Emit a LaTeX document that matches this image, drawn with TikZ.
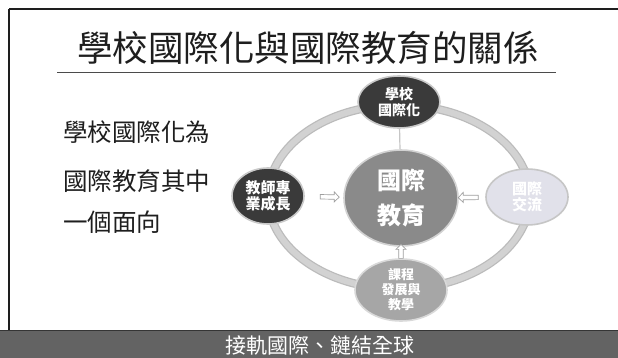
\documentclass[tikz,border=0pt]{standalone}
\usepackage{fontspec}
\setmainfont{Noto Sans CJK TC}
\newfontfamily\cjk{Noto Sans CJK TC}
\usetikzlibrary{shapes.geometric,shapes.arrows}
\definecolor{ink}{HTML}{1E1E1E}
\definecolor{ringc}{HTML}{D2D2D2}
\definecolor{ringe}{HTML}{BBBBBB}
\definecolor{darkn}{HTML}{3A3A3A}
\definecolor{midn}{HTML}{8A8A8A}
\definecolor{botn}{HTML}{A6A6A6}
\definecolor{lightn}{HTML}{E1E1EA}
\definecolor{barc}{HTML}{636363}
\tikzset{
  bubble/.style={ellipse, inner sep=0pt, line width=1.6pt, text=white, align=center, font=\cjk\bfseries},
  darkbubble/.style={bubble, fill=darkn, draw=ringe!80},
  hollowarrow/.style={single arrow, draw=gray!75, fill=white, line width=0.7pt, inner sep=1.6pt, minimum width=10pt, single arrow head extend=2.4pt, single arrow head indent=0pt, minimum height=19pt, sloped, allow upside down},
  plaintext/.style={inner sep=0pt, anchor=west, text=ink, font=\cjk\fontsize{24.5}{27}\selectfont}
}
\begin{document}
\begin{tikzpicture}[x=1pt,y=-1pt]
\useasboundingbox (0,0) rectangle (618,358);
\fill[white] (0,0) rectangle (618,358);
% frame
\draw[ink, line width=2pt] (9,9) -- (618,9);
\draw[ink, line width=2pt] (9,9) -- (9,331);
% title
\node[inner sep=0pt, text=ink, font=\cjk\fontsize{35.5}{40}\selectfont] (title) at (308,48) {學校國際化與國際教育的關係};
\draw[ink!80, line width=1pt] (57,73) -- (556,73);
% left text
\node[plaintext] (l1) at (63,132) {學校國際化為};
\node[plaintext] (l2) at (63,181) {國際教育其中};
\node[plaintext] (l3) at (63,222) {一個面向};
% ring
\draw[ringe, line width=8.5pt] (399,197) ellipse [x radius=131, y radius=92];
\draw[ringc, line width=6pt] (399,197) ellipse [x radius=131, y radius=92];
% nodes
\node[bubble, fill=midn, draw=gray!35, minimum width=114pt, minimum height=96pt, font=\cjk\bfseries\fontsize{24}{35}\selectfont] (c) at (401,198) {國際\\教育};
\node[darkbubble, minimum width=82pt, minimum height=52pt, font=\cjk\bfseries\fontsize{14}{15.5}\selectfont] (t) at (399,102) {學校\\國際化};
\node[darkbubble, minimum width=72pt, minimum height=56pt, font=\cjk\bfseries\fontsize{15}{16}\selectfont] (l) at (268,196) {教師專\\業成長};
\node[bubble, fill=lightn, draw=gray!45, minimum width=82pt, minimum height=56pt, font=\cjk\bfseries\fontsize{15}{16}\selectfont] (r) at (527,197) {國際\\交流};
\node[bubble, fill=botn, draw=gray!30, minimum width=92pt, minimum height=62pt, font=\cjk\bfseries\fontsize{13}{15}\selectfont] (b) at (401,290) {課程\\發展與\\教學};
% connectors
\draw[gray!45, line width=1.2pt] (t) -- (c);
\path (l) -- (c) node[hollowarrow, pos=0.62] (al) {};
\path (r) -- (c) node[hollowarrow, pos=0.6, minimum height=20pt] (ar) {};
\path (b) -- (c) node[hollowarrow, pos=0.5, minimum height=14pt] (ab) {};
% bottom bar
\fill[barc] (0,330) rectangle (618,358);
\draw[ink!90, line width=1.2pt] (0,330.6) -- (618,330.6);
\node[inner sep=0pt, text=white, font=\cjk\fontsize{21}{24}\selectfont] (bar) at (320,345) {接軌國際、鏈結全球};
\end{tikzpicture}
\end{document}
